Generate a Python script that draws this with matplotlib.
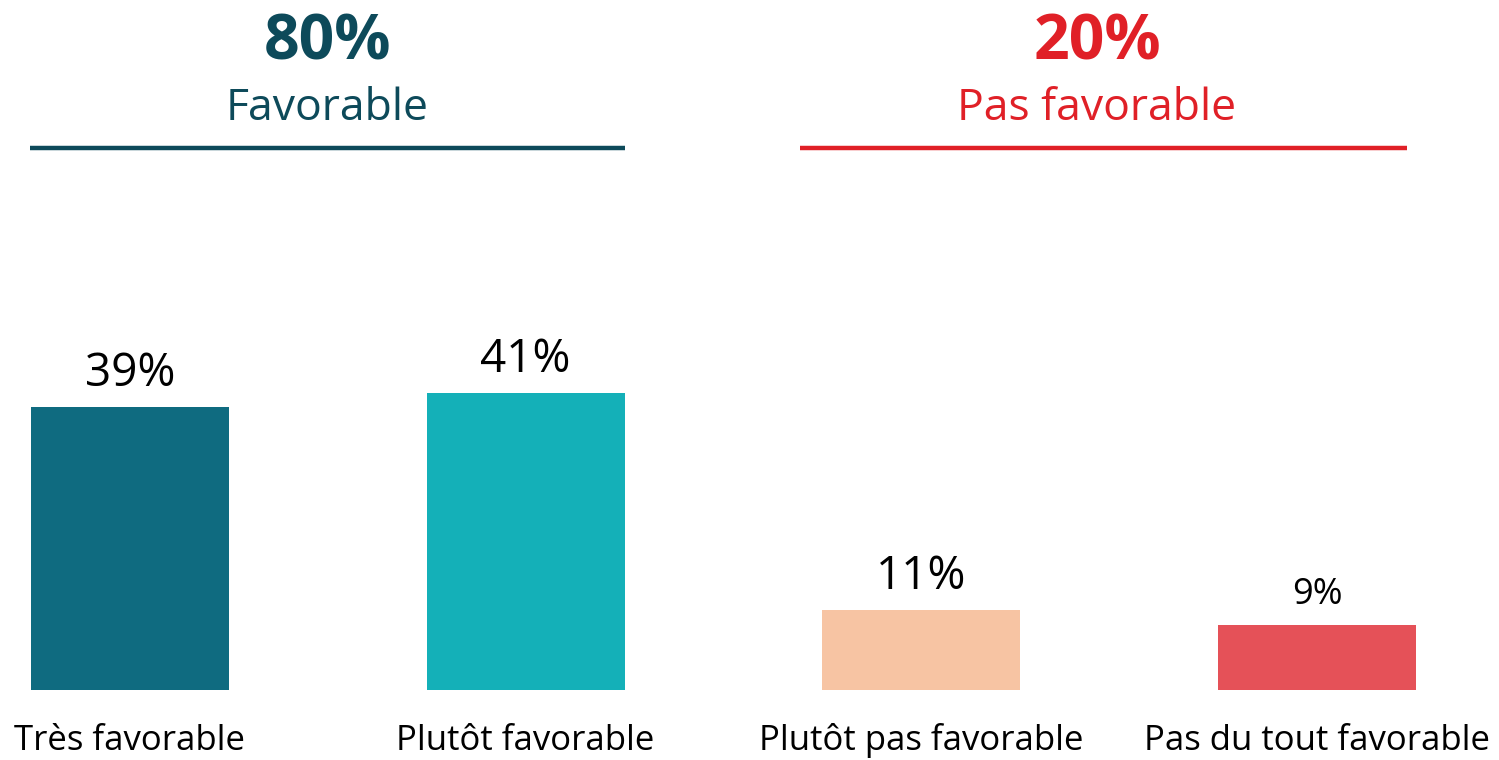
import matplotlib
matplotlib.use("Agg")
import matplotlib.pyplot as plt
from matplotlib.lines import Line2D

plt.rcParams['font.family'] = ['Open Sans', 'DejaVu Sans']

# data
categories = ["Très favorable", "Plutôt favorable", "Plutôt pas favorable", "Pas du tout favorable"]
values = [39, 41, 11, 9]
bar_colors = ["#0F6B80", "#14B0B8", "#F7C4A3", "#E55158"]
group_totals = [80, 20]
group_names = ["Favorable", "Pas favorable"]
group_colors = ["#0D4A5A", "#E02027"]

W, H = 1499, 760
fig = plt.figure(figsize=(W / 100, H / 100), dpi=100)

# axes covers full width; y scale ~7.25 px per point
ax = fig.add_axes([0, 70 / H, 1, 456 / H])
x = list(range(len(values)))
ax.bar(x, values, width=0.5, color=bar_colors)
ax.set_xlim(-0.3285, 3.460)
ax.set_ylim(0, 456 / 7.25)
ax.axis("off")

for i, v in enumerate(values):
    fs = 33 if v >= 10 else 26
    ax.annotate(f"{v}%", (i, v), xytext=(0, 15), textcoords="offset points",
                ha="center", va="baseline", fontsize=fs, color="black")

# category labels under each bar
for i, c in enumerate(categories):
    xf = ax.transData.transform((i, 0))[0] / W
    fig.text(xf, 1 - 750 / H, c, ha="center", va="baseline", fontsize=25, color="black")

# group headers with underline
spans = [(30, 625), (800, 1407)]
centers = [327, 1097]
for (x0, x1), xc, tot, name, col in zip(spans, centers, group_totals, group_names, group_colors):
    fig.text(xc / W, 1 - 60 / H, f"{tot}%", ha="center", va="baseline",
             fontsize=45, fontweight="bold", color=col)
    fig.text(xc / W, 1 - 120 / H, name, ha="center", va="baseline", fontsize=32, color=col)
    fig.add_artist(Line2D([x0 / W, x1 / W], [1 - 148 / H, 1 - 148 / H],
                          color=col, linewidth=3.2, solid_capstyle="butt"))

fig.savefig("out.png", dpi=100, facecolor="white")
